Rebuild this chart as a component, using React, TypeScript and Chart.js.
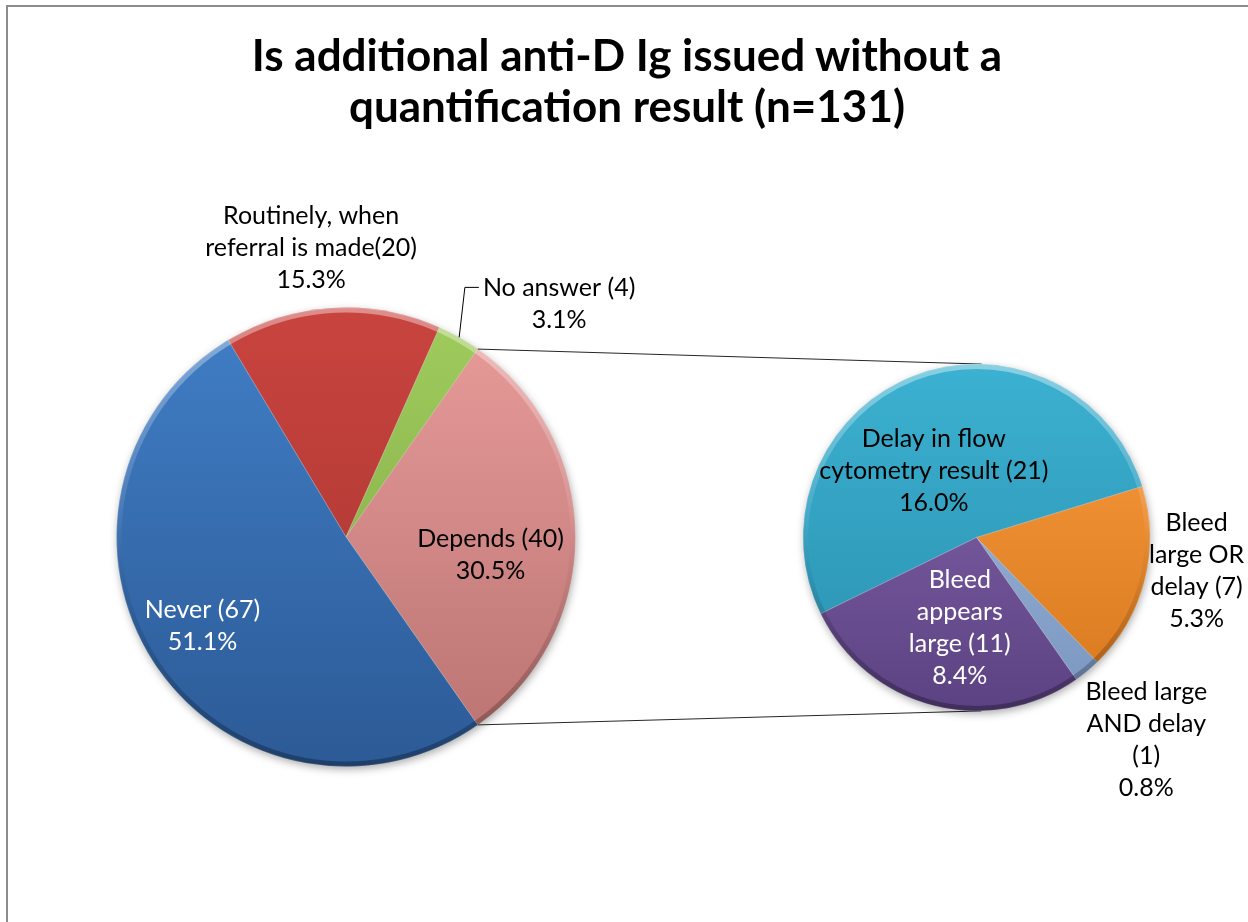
import React, { useEffect, useRef } from "react";
import { Chart, registerables } from "chart.js";

Chart.register(...registerables);

// Answers to the survey question (main pie)
const mainCategories = ["Routinely, when referral is made", "No answer", "Depends", "Never"];
const mainCounts = [20, 4, 40, 67];
// Breakdown of the "Depends" answers (secondary pie)
const detailCategories = [
  "Delay in flow cytometry result",
  "Bleed large OR delay",
  "Bleed large AND delay",
  "Bleed appears large",
];
const detailCounts = [21, 7, 1, 11];
const respondents = 131;
const splitIndex = 2; // the "Depends" slice is exploded into the secondary pie

// Data label wording; "{n}" is replaced by the count
const mainLabelText = ["Routinely, when\nreferral is made({n})", "No answer ({n})", "Depends ({n})", "Never ({n})"];
const detailLabelText = [
  "Delay in flow\ncytometry result ({n})",
  "Bleed\nlarge OR\ndelay ({n})",
  "Bleed large\nAND delay\n({n})",
  "Bleed\nappears\nlarge ({n})",
];
const titleLines = ["Is additional anti-D Ig issued without a", `quantification result (n=${respondents})`];

// ---- styling ----
const FONT = "Lato, 'Open Sans', sans-serif";
const LABEL_SIZE = 25;
const LABEL_LINE = 32;
const CAP_HALF = 9;
const DETAIL_ROTATION = -116.1;

const mainShades = [
  ["#c9443f", "#a5332f"],
  ["#a0cc5d", "#7ea543"],
  ["#e99d9b", "#b87270"],
  ["#417fc7", "#2c5a96"],
];
const detailShades = [
  ["#3cb1d1", "#2a8fae"],
  ["#fb9c3f", "#d7781e"],
  ["#a3bde1", "#7a96bf"],
  ["#8a68b2", "#5b4282"],
];
const mainTextColor = ["#000", "#000", "#000", "#fff"];
const detailTextColor = ["#000", "#000", "#000", "#fff"];

type Placement = { f: number; dx: number; dy: number; leader?: boolean };
const mainPlacement: Placement[] = [
  { f: 1.3, dx: -17, dy: 7.5 },
  { f: 1.15, dx: 83, dy: -4, leader: true },
  { f: 0.63, dx: 0, dy: 17 },
  { f: 0.73, dx: -3, dy: -3 },
];
const detailPlacement: Placement[] = [
  { f: 0.45, dx: -14, dy: 5 },
  { f: 1.28, dx: 5, dy: -23 },
  { f: 1.3, dx: 26, dy: 28 },
  { f: 0.55, dx: 7, dy: -3 },
];

// Rotate the main pie so the exploded slice is centred on the right-hand side
function splitRotation(): number {
  const before = mainCounts.slice(0, splitIndex).reduce((a, b) => a + b, 0);
  const half = mainCounts[splitIndex] / 2;
  return 90 - ((before + half) / respondents) * 360;
}

function shaded(pairs: string[][]) {
  return (c: any) => {
    const i = typeof c.dataIndex === "number" ? c.dataIndex : 0;
    const [top, bottom] = pairs[i];
    const area = c.chart.chartArea;
    if (!area) return top;
    const cy = (area.top + area.bottom) / 2;
    const r = Math.min(area.right - area.left, area.bottom - area.top) / 2;
    const g = c.chart.ctx.createLinearGradient(0, cy - r, 0, cy + r);
    g.addColorStop(0, top);
    g.addColorStop(1, bottom);
    return g;
  };
}

// Soft drop shadow under the pie and a bevel highlight around its rim
const pieFinish = {
  id: "pieFinish",
  beforeDatasetsDraw(chart: any) {
    const arc = chart.getDatasetMeta(0).data[0];
    if (!arc) return;
    const { x, y, outerRadius } = arc;
    const ctx = chart.ctx;
    ctx.save();
    ctx.shadowColor = "rgba(0,0,0,0.35)";
    ctx.shadowBlur = 8;
    ctx.shadowOffsetX = 1;
    ctx.shadowOffsetY = 3;
    ctx.beginPath();
    ctx.arc(x, y, outerRadius - 0.5, 0, Math.PI * 2);
    ctx.fillStyle = "#777";
    ctx.fill();
    ctx.restore();
  },
  afterDatasetsDraw(chart: any) {
    const arc = chart.getDatasetMeta(0).data[0];
    if (!arc) return;
    const { x, y, outerRadius } = arc;
    const ctx = chart.ctx;
    ctx.save();
    const g = ctx.createLinearGradient(0, y - outerRadius, 0, y + outerRadius);
    g.addColorStop(0, "rgba(255,255,255,0.40)");
    g.addColorStop(0.45, "rgba(255,255,255,0.08)");
    g.addColorStop(0.6, "rgba(0,0,0,0.05)");
    g.addColorStop(1, "rgba(0,0,0,0.30)");
    ctx.beginPath();
    ctx.arc(x, y, outerRadius - 2.5, 0, Math.PI * 2);
    ctx.lineWidth = 5;
    ctx.strokeStyle = g;
    ctx.stroke();
    ctx.restore();
  },
};

function sliceLabels(id: string, texts: string[], counts: number[], colors: string[], places: Placement[]) {
  return {
    id,
    afterDatasetsDraw(chart: any) {
      const ctx = chart.ctx;
      const arcs = chart.getDatasetMeta(0).data;
      ctx.save();
      ctx.font = `${LABEL_SIZE}px ${FONT}`;
      ctx.textAlign = "center";
      ctx.textBaseline = "alphabetic";
      arcs.forEach((arc: any, i: number) => {
        const { x, y, startAngle, endAngle, outerRadius } = arc;
        const mid = (startAngle + endAngle) / 2;
        const p = places[i];
        const ax = x + Math.cos(mid) * outerRadius * p.f + p.dx;
        const ay = y + Math.sin(mid) * outerRadius * p.f + p.dy;
        const pct = ((counts[i] / respondents) * 100).toFixed(1) + "%";
        const lines = [...texts[i].replace("{n}", String(counts[i])).split("\n"), pct];
        const n = lines.length;
        ctx.fillStyle = colors[i];
        lines.forEach((line, k) => {
          const base = ay + (k - (n - 1) / 2) * LABEL_LINE + CAP_HALF;
          ctx.fillText(line, ax, base);
        });
        if (p.leader) {
          const w = ctx.measureText(lines[0]).width;
          const lx = ax - w / 2 - 4;
          const ly = ay - ((n - 1) / 2) * LABEL_LINE;
          ctx.beginPath();
          ctx.moveTo(lx, ly);
          ctx.lineTo(lx - 14, ly);
          ctx.lineTo(x + Math.cos(mid) * outerRadius, y + Math.sin(mid) * outerRadius);
          ctx.lineWidth = 1;
          ctx.strokeStyle = "#000";
          ctx.stroke();
        }
      });
      ctx.restore();
    },
  };
}

function tangentPoint(px: number, py: number, cx: number, cy: number, r: number, upper: boolean) {
  const d = Math.hypot(px - cx, py - cy);
  const beta = Math.atan2(py - cy, px - cx);
  const alpha = Math.acos(Math.min(1, r / d));
  const a1 = beta + alpha;
  const a2 = beta - alpha;
  const p1 = { x: cx + r * Math.cos(a1), y: cy + r * Math.sin(a1) };
  const p2 = { x: cx + r * Math.cos(a2), y: cy + r * Math.sin(a2) };
  if (upper) return p1.y < p2.y ? p1 : p2;
  return p1.y > p2.y ? p1 : p2;
}

export default function App() {
  const mainRef = useRef<HTMLCanvasElement>(null);
  const detailRef = useRef<HTMLCanvasElement>(null);

  useEffect(() => {
    if (!mainRef.current || !detailRef.current) return;

    const mainChart = new Chart(mainRef.current, {
      type: "pie",
      data: {
        labels: mainCategories,
        datasets: [
          {
            data: mainCounts,
            backgroundColor: shaded(mainShades) as any,
            borderColor: "rgba(255,255,255,0.22)",
            borderWidth: 1,
          },
        ],
      },
      options: {
        animation: false,
        responsive: false,
        devicePixelRatio: 1,
        rotation: splitRotation(),
        layout: { padding: { left: 116, right: 672, top: 307, bottom: 155 } },
        plugins: { legend: { display: false }, tooltip: { enabled: false }, title: { display: false } },
      } as any,
      plugins: [pieFinish, sliceLabels("mainLabels", mainLabelText, mainCounts, mainTextColor, mainPlacement)],
    });

    // Lines joining the exploded slice to the secondary pie
    const connectors = {
      id: "connectors",
      beforeDatasetsDraw(chart: any) {
        const slice: any = mainChart.getDatasetMeta(0).data[splitIndex];
        const arc = chart.getDatasetMeta(0).data[0];
        if (!slice || !arc) return;
        const ctx = chart.ctx;
        const ends = [
          { a: slice.startAngle, upper: true },
          { a: slice.endAngle, upper: false },
        ];
        ctx.save();
        ctx.lineWidth = 1;
        ctx.strokeStyle = "#262626";
        ends.forEach(({ a, upper }) => {
          const sx = slice.x + slice.outerRadius * Math.cos(a);
          const sy = slice.y + slice.outerRadius * Math.sin(a);
          const t = tangentPoint(sx, sy, arc.x, arc.y, arc.outerRadius, upper);
          ctx.beginPath();
          ctx.moveTo(sx, sy);
          ctx.lineTo(t.x, t.y);
          ctx.stroke();
        });
        ctx.restore();
      },
    };

    const detailChart = new Chart(detailRef.current, {
      type: "pie",
      data: {
        labels: detailCategories,
        datasets: [
          {
            data: detailCounts,
            backgroundColor: shaded(detailShades) as any,
            borderColor: "rgba(255,255,255,0.22)",
            borderWidth: 1,
          },
        ],
      },
      options: {
        animation: false,
        responsive: false,
        devicePixelRatio: 1,
        rotation: DETAIL_ROTATION,
        layout: { padding: { left: 802.5, right: 97.5, top: 363.5, bottom: 210.5 } },
        plugins: { legend: { display: false }, tooltip: { enabled: false }, title: { display: false } },
      } as any,
      plugins: [
        connectors,
        pieFinish,
        sliceLabels("detailLabels", detailLabelText, detailCounts, detailTextColor, detailPlacement),
      ],
    });

    return () => {
      detailChart.destroy();
      mainChart.destroy();
    };
  }, []);

  return (
    <div
      style={{
        position: "absolute",
        left: 0,
        top: 0,
        width: 1248,
        height: 922,
        overflow: "hidden",
        background: "#fff",
      }}
    >
      <div
        style={{
          position: "absolute",
          left: 6,
          top: 5,
          width: 1300,
          height: 1000,
          border: "2px solid #8c8c8c",
          boxSizing: "border-box",
        }}
      />
      <canvas ref={mainRef} width={1248} height={922} style={{ position: "absolute", left: 0, top: 0 }} />
      <canvas ref={detailRef} width={1248} height={922} style={{ position: "absolute", left: 0, top: 0 }} />
      <div
        style={{
          position: "absolute",
          left: 0,
          top: 29,
          width: 1254,
          textAlign: "center",
          fontFamily: FONT,
          fontWeight: 700,
          fontSize: 44,
          lineHeight: "51px",
          color: "#000",
          whiteSpace: "nowrap",
        }}
      >
        {titleLines[0]}
        <br />
        {titleLines[1]}
      </div>
    </div>
  );
}
